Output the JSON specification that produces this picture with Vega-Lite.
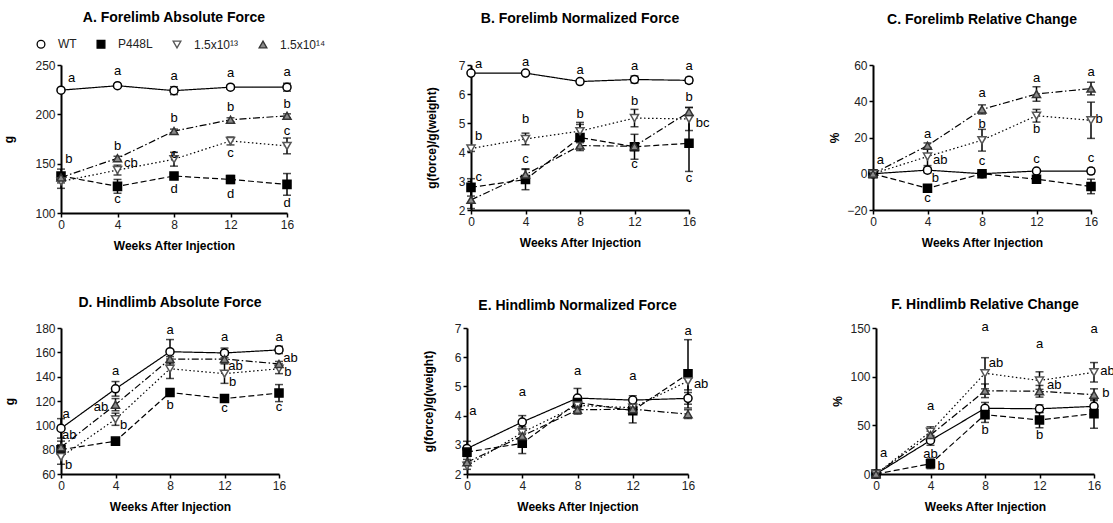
{
"$schema": "https://vega.github.io/schema/vega-lite/v6.json",
"padding": {"left": 2, "top": 11, "right": 5, "bottom": 5},
"config": {
  "font": "Liberation Sans",
  "view": {"stroke": null},
  "axis": {"domainColor": "black", "domainWidth": 2, "tickColor": "black", "tickWidth": 1.5, "tickSize": 4, "labelFontSize": 12, "labelColor": "#222", "labelPadding": 2, "titleFontSize": 12, "titleFontWeight": "bold", "titleColor": "black", "grid": false, "labelFlush": false, "labelOverlap": false},
  "axisX": {"titlePadding": 10},
  "title": {"fontSize": 14, "fontWeight": "bold", "color": "black", "frame": "group", "anchor": "middle"},
  "text": {"fontSize": 13, "color": "black"}
},
"datasets": {
  "pts": [
    {"panel":"A","group":"WT","week":0,"value":224.5,"err":0},
    {"panel":"A","group":"WT","week":4,"value":229,"err":1},
    {"panel":"A","group":"WT","week":8,"value":224,"err":4},
    {"panel":"A","group":"WT","week":12,"value":227.5,"err":2},
    {"panel":"A","group":"WT","week":16,"value":227.5,"err":4},
    {"panel":"A","group":"P448L","week":0,"value":137.5,"err":7},
    {"panel":"A","group":"P448L","week":4,"value":127,"err":7},
    {"panel":"A","group":"P448L","week":8,"value":137.5,"err":2},
    {"panel":"A","group":"P448L","week":12,"value":134,"err":4},
    {"panel":"A","group":"P448L","week":16,"value":129,"err":11},
    {"panel":"A","group":"1.5x10¹³","week":0,"value":132,"err":7},
    {"panel":"A","group":"1.5x10¹³","week":4,"value":143.5,"err":5},
    {"panel":"A","group":"1.5x10¹³","week":8,"value":154.5,"err":7},
    {"panel":"A","group":"1.5x10¹³","week":12,"value":173,"err":4},
    {"panel":"A","group":"1.5x10¹³","week":16,"value":168,"err":8},
    {"panel":"A","group":"1.5x10¹⁴","week":0,"value":136,"err":3},
    {"panel":"A","group":"1.5x10¹⁴","week":4,"value":155.5,"err":2},
    {"panel":"A","group":"1.5x10¹⁴","week":8,"value":183,"err":2},
    {"panel":"A","group":"1.5x10¹⁴","week":12,"value":194.5,"err":2},
    {"panel":"A","group":"1.5x10¹⁴","week":16,"value":198.5,"err":2},

    {"panel":"B","group":"WT","week":0,"value":6.72,"err":0},
    {"panel":"B","group":"WT","week":4,"value":6.72,"err":0},
    {"panel":"B","group":"WT","week":8,"value":6.43,"err":0.05},
    {"panel":"B","group":"WT","week":12,"value":6.5,"err":0.12},
    {"panel":"B","group":"WT","week":16,"value":6.47,"err":0.1},
    {"panel":"B","group":"P448L","week":0,"value":2.78,"err":0.3},
    {"panel":"B","group":"P448L","week":4,"value":3.05,"err":0.35},
    {"panel":"B","group":"P448L","week":8,"value":4.5,"err":0.45},
    {"panel":"B","group":"P448L","week":12,"value":4.18,"err":0.43},
    {"panel":"B","group":"P448L","week":16,"value":4.3,"err":0.97},
    {"panel":"B","group":"1.5x10¹³","week":0,"value":4.12,"err":0.1},
    {"panel":"B","group":"1.5x10¹³","week":4,"value":4.45,"err":0.2},
    {"panel":"B","group":"1.5x10¹³","week":8,"value":4.72,"err":0.3},
    {"panel":"B","group":"1.5x10¹³","week":12,"value":5.17,"err":0.3},
    {"panel":"B","group":"1.5x10¹³","week":16,"value":5.14,"err":0.4},
    {"panel":"B","group":"1.5x10¹⁴","week":0,"value":2.35,"err":0.3},
    {"panel":"B","group":"1.5x10¹⁴","week":4,"value":3.22,"err":0.2},
    {"panel":"B","group":"1.5x10¹⁴","week":8,"value":4.22,"err":0.1},
    {"panel":"B","group":"1.5x10¹⁴","week":12,"value":4.2,"err":0.1},
    {"panel":"B","group":"1.5x10¹⁴","week":16,"value":5.38,"err":0.15},

    {"panel":"C","group":"WT","week":0,"value":0,"err":0},
    {"panel":"C","group":"WT","week":4,"value":2,"err":1.5},
    {"panel":"C","group":"WT","week":8,"value":0,"err":0},
    {"panel":"C","group":"WT","week":12,"value":1.5,"err":0.5},
    {"panel":"C","group":"WT","week":16,"value":1.5,"err":1.5},
    {"panel":"C","group":"P448L","week":0,"value":0,"err":0},
    {"panel":"C","group":"P448L","week":4,"value":-8,"err":1.5},
    {"panel":"C","group":"P448L","week":8,"value":0,"err":0},
    {"panel":"C","group":"P448L","week":12,"value":-3,"err":1},
    {"panel":"C","group":"P448L","week":16,"value":-7,"err":4},
    {"panel":"C","group":"1.5x10¹³","week":0,"value":0,"err":0},
    {"panel":"C","group":"1.5x10¹³","week":4,"value":9.5,"err":5},
    {"panel":"C","group":"1.5x10¹³","week":8,"value":18.5,"err":6},
    {"panel":"C","group":"1.5x10¹³","week":12,"value":32,"err":3.5},
    {"panel":"C","group":"1.5x10¹³","week":16,"value":29.5,"err":10},
    {"panel":"C","group":"1.5x10¹⁴","week":0,"value":0,"err":0},
    {"panel":"C","group":"1.5x10¹⁴","week":4,"value":15.5,"err":1.5},
    {"panel":"C","group":"1.5x10¹⁴","week":8,"value":35.5,"err":2.5},
    {"panel":"C","group":"1.5x10¹⁴","week":12,"value":44,"err":4},
    {"panel":"C","group":"1.5x10¹⁴","week":16,"value":47,"err":3.5},

    {"panel":"D","group":"WT","week":0,"value":97.5,"err":8},
    {"panel":"D","group":"WT","week":4,"value":130,"err":6},
    {"panel":"D","group":"WT","week":8,"value":160.5,"err":10},
    {"panel":"D","group":"WT","week":12,"value":159.5,"err":4},
    {"panel":"D","group":"WT","week":16,"value":162,"err":3},
    {"panel":"D","group":"P448L","week":0,"value":80,"err":4},
    {"panel":"D","group":"P448L","week":4,"value":87,"err":2},
    {"panel":"D","group":"P448L","week":8,"value":127,"err":2},
    {"panel":"D","group":"P448L","week":12,"value":122,"err":2},
    {"panel":"D","group":"P448L","week":16,"value":126.5,"err":7},
    {"panel":"D","group":"1.5x10¹³","week":0,"value":74,"err":6},
    {"panel":"D","group":"1.5x10¹³","week":4,"value":105,"err":5},
    {"panel":"D","group":"1.5x10¹³","week":8,"value":146.5,"err":8},
    {"panel":"D","group":"1.5x10¹³","week":12,"value":142.5,"err":8},
    {"panel":"D","group":"1.5x10¹³","week":16,"value":146.5,"err":4},
    {"panel":"D","group":"1.5x10¹⁴","week":0,"value":82,"err":5},
    {"panel":"D","group":"1.5x10¹⁴","week":4,"value":117,"err":5},
    {"panel":"D","group":"1.5x10¹⁴","week":8,"value":154.5,"err":2},
    {"panel":"D","group":"1.5x10¹⁴","week":12,"value":154.5,"err":3},
    {"panel":"D","group":"1.5x10¹⁴","week":16,"value":150.5,"err":2},

    {"panel":"E","group":"WT","week":0,"value":2.87,"err":0.25},
    {"panel":"E","group":"WT","week":4,"value":3.78,"err":0.22},
    {"panel":"E","group":"WT","week":8,"value":4.6,"err":0.33},
    {"panel":"E","group":"WT","week":12,"value":4.53,"err":0.15},
    {"panel":"E","group":"WT","week":16,"value":4.59,"err":0.2},
    {"panel":"E","group":"P448L","week":0,"value":2.75,"err":0.15},
    {"panel":"E","group":"P448L","week":4,"value":3.05,"err":0.35},
    {"panel":"E","group":"P448L","week":8,"value":4.45,"err":0.2},
    {"panel":"E","group":"P448L","week":12,"value":4.17,"err":0.42},
    {"panel":"E","group":"P448L","week":16,"value":5.43,"err":1.17},
    {"panel":"E","group":"1.5x10¹³","week":0,"value":2.28,"err":0.12},
    {"panel":"E","group":"1.5x10¹³","week":4,"value":3.42,"err":0.2},
    {"panel":"E","group":"1.5x10¹³","week":8,"value":4.35,"err":0.2},
    {"panel":"E","group":"1.5x10¹³","week":12,"value":4.27,"err":0.15},
    {"panel":"E","group":"1.5x10¹³","week":16,"value":5.18,"err":0.3},
    {"panel":"E","group":"1.5x10¹⁴","week":0,"value":2.4,"err":0.1},
    {"panel":"E","group":"1.5x10¹⁴","week":4,"value":3.3,"err":0.2},
    {"panel":"E","group":"1.5x10¹⁴","week":8,"value":4.2,"err":0.15},
    {"panel":"E","group":"1.5x10¹⁴","week":12,"value":4.22,"err":0.1},
    {"panel":"E","group":"1.5x10¹⁴","week":16,"value":4.05,"err":0.15},

    {"panel":"F","group":"WT","week":0,"value":0,"err":0},
    {"panel":"F","group":"WT","week":4,"value":34.5,"err":5},
    {"panel":"F","group":"WT","week":8,"value":67.5,"err":6},
    {"panel":"F","group":"WT","week":12,"value":67,"err":4},
    {"panel":"F","group":"WT","week":16,"value":69.5,"err":8},
    {"panel":"F","group":"P448L","week":0,"value":0,"err":0},
    {"panel":"F","group":"P448L","week":4,"value":10.5,"err":5},
    {"panel":"F","group":"P448L","week":8,"value":61,"err":8},
    {"panel":"F","group":"P448L","week":12,"value":55.5,"err":8},
    {"panel":"F","group":"P448L","week":16,"value":62,"err":15},
    {"panel":"F","group":"1.5x10¹³","week":0,"value":0,"err":0},
    {"panel":"F","group":"1.5x10¹³","week":4,"value":43.5,"err":5},
    {"panel":"F","group":"1.5x10¹³","week":8,"value":103.5,"err":16},
    {"panel":"F","group":"1.5x10¹³","week":12,"value":96,"err":9},
    {"panel":"F","group":"1.5x10¹³","week":16,"value":104.5,"err":10},
    {"panel":"F","group":"1.5x10¹⁴","week":0,"value":0,"err":0},
    {"panel":"F","group":"1.5x10¹⁴","week":4,"value":40,"err":4},
    {"panel":"F","group":"1.5x10¹⁴","week":8,"value":85.5,"err":7},
    {"panel":"F","group":"1.5x10¹⁴","week":12,"value":85,"err":6},
    {"panel":"F","group":"1.5x10¹⁴","week":16,"value":81.5,"err":6}
  ],
  "letters": [
    {"panel":"A","week":0.75,"value":237,"label":"a"},
    {"panel":"A","week":0.55,"value":155,"label":"b"},
    {"panel":"A","week":4,"value":244,"label":"a"},
    {"panel":"A","week":4,"value":168,"label":"b"},
    {"panel":"A","week":4.95,"value":151,"label":"cb"},
    {"panel":"A","week":4,"value":114,"label":"c"},
    {"panel":"A","week":8,"value":239,"label":"a"},
    {"panel":"A","week":8,"value":196.5,"label":"b"},
    {"panel":"A","week":8,"value":159.5,"label":"c"},
    {"panel":"A","week":8,"value":124.5,"label":"d"},
    {"panel":"A","week":12,"value":241.5,"label":"a"},
    {"panel":"A","week":12,"value":207,"label":"b"},
    {"panel":"A","week":12,"value":160.5,"label":"c"},
    {"panel":"A","week":12,"value":119.5,"label":"d"},
    {"panel":"A","week":16,"value":243,"label":"a"},
    {"panel":"A","week":16,"value":210,"label":"b"},
    {"panel":"A","week":16,"value":183,"label":"c"},
    {"panel":"A","week":16,"value":110.5,"label":"d"},

    {"panel":"B","week":0.56,"value":7.03,"label":"a"},
    {"panel":"B","week":0.56,"value":4.56,"label":"b"},
    {"panel":"B","week":0.56,"value":3.13,"label":"c"},
    {"panel":"B","week":4,"value":7.1,"label":"a"},
    {"panel":"B","week":4,"value":5.14,"label":"b"},
    {"panel":"B","week":4,"value":3.76,"label":"c"},
    {"panel":"B","week":8,"value":6.83,"label":"a"},
    {"panel":"B","week":8,"value":5.31,"label":"b"},
    {"panel":"B","week":12,"value":6.95,"label":"a"},
    {"panel":"B","week":12,"value":5.77,"label":"b"},
    {"panel":"B","week":12,"value":3.59,"label":"c"},
    {"panel":"B","week":16,"value":6.95,"label":"a"},
    {"panel":"B","week":16,"value":5.9,"label":"b"},
    {"panel":"B","week":17.0,"value":5.01,"label":"bc"},
    {"panel":"B","week":16,"value":3.12,"label":"c"},

    {"panel":"C","week":0.54,"value":7.4,"label":"a"},
    {"panel":"C","week":4,"value":22.1,"label":"a"},
    {"panel":"C","week":4.94,"value":7.4,"label":"ab"},
    {"panel":"C","week":4.57,"value":-2.6,"label":"b"},
    {"panel":"C","week":4,"value":-13.3,"label":"c"},
    {"panel":"C","week":8,"value":44.4,"label":"a"},
    {"panel":"C","week":8,"value":27.6,"label":"b"},
    {"panel":"C","week":8,"value":7.1,"label":"c"},
    {"panel":"C","week":12,"value":52.7,"label":"a"},
    {"panel":"C","week":12,"value":24.8,"label":"b"},
    {"panel":"C","week":12,"value":8.4,"label":"c"},
    {"panel":"C","week":16,"value":56,"label":"a"},
    {"panel":"C","week":16.6,"value":30.3,"label":"b"},
    {"panel":"C","week":16,"value":8.9,"label":"c"},

    {"panel":"D","week":0.37,"value":109.3,"label":"a"},
    {"panel":"D","week":0.61,"value":92.3,"label":"ab"},
    {"panel":"D","week":0.56,"value":67.7,"label":"b"},
    {"panel":"D","week":4,"value":145,"label":"a"},
    {"panel":"D","week":2.93,"value":114.8,"label":"ab"},
    {"panel":"D","week":4.6,"value":100,"label":"b"},
    {"panel":"D","week":4,"value":87.4,"label":"c"},
    {"panel":"D","week":8,"value":178.6,"label":"a"},
    {"panel":"D","week":8,"value":116.4,"label":"b"},
    {"panel":"D","week":12,"value":172.3,"label":"a"},
    {"panel":"D","week":12.8,"value":148.5,"label":"ab"},
    {"panel":"D","week":12.6,"value":135.3,"label":"b"},
    {"panel":"D","week":12,"value":114.2,"label":"c"},
    {"panel":"D","week":16,"value":172.3,"label":"a"},
    {"panel":"D","week":16.85,"value":155.3,"label":"ab"},
    {"panel":"D","week":16.65,"value":143.6,"label":"b"},
    {"panel":"D","week":16,"value":114.8,"label":"c"},

    {"panel":"E","week":0.43,"value":4.17,"label":"a"},
    {"panel":"E","week":4,"value":4.8,"label":"a"},
    {"panel":"E","week":8,"value":5.54,"label":"a"},
    {"panel":"E","week":12,"value":5.37,"label":"a"},
    {"panel":"E","week":16,"value":6.9,"label":"a"},
    {"panel":"E","week":16.95,"value":5.08,"label":"ab"},

    {"panel":"F","week":0.56,"value":21.6,"label":"a"},
    {"panel":"F","week":4,"value":69.5,"label":"a"},
    {"panel":"F","week":4,"value":20.5,"label":"ab"},
    {"panel":"F","week":4.77,"value":8.6,"label":"b"},
    {"panel":"F","week":8,"value":150.7,"label":"a"},
    {"panel":"F","week":8.8,"value":114,"label":"ab"},
    {"panel":"F","week":8,"value":45.5,"label":"b"},
    {"panel":"F","week":12,"value":133.6,"label":"a"},
    {"panel":"F","week":13.08,"value":91.8,"label":"ab"},
    {"panel":"F","week":12,"value":40.4,"label":"b"},
    {"panel":"F","week":16,"value":149,"label":"a"},
    {"panel":"F","week":16.99,"value":105.5,"label":"ab"},
    {"panel":"F","week":16.87,"value":83.2,"label":"b"}
  ]
},
"spacing": 263,
"bounds": "flush",
"resolve": {"scale": {"shape": "independent", "fill": "independent", "stroke": "independent", "strokeDash": "independent"}},
"vconcat": [
{
"spacing": 184,
"bounds": "flush",
"resolve": {"scale": {"shape": "independent", "fill": "independent", "stroke": "independent", "strokeDash": "independent"}},
"hconcat": [
{
  "width": 226, "height": 148,
  "title": {"text": "A. Forelimb Absolute Force", "offset": 13},
  "encoding": {
    "x": {"field": "week", "type": "quantitative", "scale": {"domain": [0, 16], "nice": false}, "axis": {"values": [0, 4, 8, 12, 16], "title": "Weeks After Injection"}},
    "y": {"field": "value", "type": "quantitative", "scale": {"domain": [100, 250], "nice": false, "zero": false}, "axis": {"values": [100, 150, 200, 250], "title": "g", "titlePadding": 19}}
  },
  "layer": [
    {"data": {"name": "pts"}, "transform": [{"filter": "datum.panel === 'A'"}], "mark": {"type": "line", "color": "black", "strokeWidth": 1.2},
     "encoding": {"strokeDash": {"field": "group", "type": "nominal", "scale": {"domain": ["1.5x10¹⁴", "1.5x10¹³", "P448L", "WT"], "range": [[7, 2.5, 1.5, 2.5], [1.5, 2.5], [6, 3], [1, 0]]}, "legend": null}}},
    {"data": {"name": "pts"}, "transform": [{"filter": "datum.panel === 'A' && datum.err > 0"}], "mark": {"type": "errorbar", "color": "black", "thickness": 1.5, "ticks": {"size": 8, "thickness": 1.5}},
     "encoding": {"yError": {"field": "err"}}},
    {"data": {"name": "pts"}, "transform": [{"filter": "datum.panel === 'A'"}], "mark": {"type": "point", "filled": true, "opacity": 1, "size": 65, "strokeWidth": 1.5},
     "encoding": {
       "shape": {"field": "group", "type": "nominal", "scale": {"domain": ["WT", "P448L", "1.5x10¹³", "1.5x10¹⁴"], "range": ["circle", "square", "triangle-down", "triangle-up"]},
         "legend": {"title": null, "orient": "none", "legendX": -26, "legendY": -27, "direction": "horizontal", "labelFontSize": 12, "labelColor": "#222", "symbolSize": 60, "symbolStrokeWidth": 1.3, "symbolOpacity": 1, "labelOffset": 11, "columnPadding": 17}},
       "fill": {"field": "group", "type": "nominal", "scale": {"domain": ["WT", "P448L", "1.5x10¹³", "1.5x10¹⁴"], "range": ["white", "black", "white", "#8a8a8a"]},
         "legend": {"title": null, "orient": "none", "legendX": -26, "legendY": -27, "direction": "horizontal", "labelFontSize": 12, "labelColor": "#222", "symbolSize": 60, "symbolStrokeWidth": 1.3, "symbolOpacity": 1, "labelOffset": 11, "columnPadding": 17}},
       "stroke": {"field": "group", "type": "nominal", "scale": {"domain": ["WT", "P448L", "1.5x10¹³", "1.5x10¹⁴"], "range": ["black", "black", "#555555", "#333333"]},
         "legend": {"title": null, "orient": "none", "legendX": -26, "legendY": -27, "direction": "horizontal", "labelFontSize": 12, "labelColor": "#222", "symbolSize": 60, "symbolStrokeWidth": 1.3, "symbolOpacity": 1, "labelOffset": 11, "columnPadding": 17}}
     }},
    {"data": {"name": "letters"}, "transform": [{"filter": "datum.panel === 'A'"}], "mark": {"type": "text", "baseline": "middle", "align": "center"}, "encoding": {"text": {"field": "label"}}}
  ]
},
{
  "width": 218, "height": 145,
  "title": {"text": "B. Forelimb Normalized Force", "offset": 30},
  "encoding": {
    "x": {"field": "week", "type": "quantitative", "scale": {"domain": [0, 16], "nice": false}, "axis": {"values": [0, 4, 8, 12, 16], "title": "Weeks After Injection"}},
    "y": {"field": "value", "type": "quantitative", "scale": {"domain": [2, 7], "nice": false, "zero": false}, "axis": {"values": [2, 3, 4, 5, 6, 7], "title": "g(force)/g(weight)", "titlePadding": 20}}
  },
  "layer": [
    {"data": {"name": "pts"}, "transform": [{"filter": "datum.panel === 'B'"}], "mark": {"type": "line", "color": "black", "strokeWidth": 1.2},
     "encoding": {"strokeDash": {"field": "group", "type": "nominal", "scale": {"domain": ["WT", "P448L", "1.5x10¹³", "1.5x10¹⁴"], "range": [[1, 0], [6, 3], [1.5, 2.5], [7, 2.5, 1.5, 2.5]]}, "legend": null}}},
    {"data": {"name": "pts"}, "transform": [{"filter": "datum.panel === 'B' && datum.err > 0"}], "mark": {"type": "errorbar", "color": "black", "thickness": 1.5, "ticks": {"size": 8, "thickness": 1.5}},
     "encoding": {"yError": {"field": "err"}}},
    {"data": {"name": "pts"}, "transform": [{"filter": "datum.panel === 'B'"}], "mark": {"type": "point", "filled": true, "opacity": 1, "size": 65, "strokeWidth": 1.5},
     "encoding": {
       "shape": {"field": "group", "type": "nominal", "scale": {"domain": ["WT", "P448L", "1.5x10¹³", "1.5x10¹⁴"], "range": ["circle", "square", "triangle-down", "triangle-up"]}, "legend": null},
       "fill": {"field": "group", "type": "nominal", "scale": {"domain": ["WT", "P448L", "1.5x10¹³", "1.5x10¹⁴"], "range": ["white", "black", "white", "#8a8a8a"]}, "legend": null},
       "stroke": {"field": "group", "type": "nominal", "scale": {"domain": ["WT", "P448L", "1.5x10¹³", "1.5x10¹⁴"], "range": ["black", "black", "#555555", "#333333"]}, "legend": null}
     }},
    {"data": {"name": "letters"}, "transform": [{"filter": "datum.panel === 'B'"}], "mark": {"type": "text", "baseline": "middle", "align": "center"}, "encoding": {"text": {"field": "label"}}}
  ]
},
{
  "width": 218, "height": 145,
  "title": {"text": "C. Forelimb Relative Change", "offset": 32},
  "encoding": {
    "x": {"field": "week", "type": "quantitative", "scale": {"domain": [0, 16], "nice": false}, "axis": {"values": [0, 4, 8, 12, 16], "title": "Weeks After Injection"}},
    "y": {"field": "value", "type": "quantitative", "scale": {"domain": [-20, 60], "nice": false, "zero": false}, "axis": {"values": [-20, 0, 20, 40, 60], "title": "%", "titlePadding": 5}}
  },
  "layer": [
    {"data": {"values": [{}]}, "mark": {"type": "rule", "color": "black", "strokeWidth": 1.2, "strokeDash": [1.5, 2]},
     "encoding": {"x": {"datum": 0}, "x2": {"datum": 16}, "y": {"datum": 0}}},
    {"data": {"name": "pts"}, "transform": [{"filter": "datum.panel === 'C'"}], "mark": {"type": "line", "color": "black", "strokeWidth": 1.2},
     "encoding": {"strokeDash": {"field": "group", "type": "nominal", "scale": {"domain": ["WT", "P448L", "1.5x10¹³", "1.5x10¹⁴"], "range": [[1, 0], [6, 3], [1.5, 2.5], [7, 2.5, 1.5, 2.5]]}, "legend": null}}},
    {"data": {"name": "pts"}, "transform": [{"filter": "datum.panel === 'C' && datum.err > 0"}], "mark": {"type": "errorbar", "color": "black", "thickness": 1.5, "ticks": {"size": 8, "thickness": 1.5}},
     "encoding": {"yError": {"field": "err"}}},
    {"data": {"name": "pts"}, "transform": [{"filter": "datum.panel === 'C'"}], "mark": {"type": "point", "filled": true, "opacity": 1, "size": 65, "strokeWidth": 1.5},
     "encoding": {
       "shape": {"field": "group", "type": "nominal", "scale": {"domain": ["WT", "P448L", "1.5x10¹³", "1.5x10¹⁴"], "range": ["circle", "square", "triangle-down", "triangle-up"]}, "legend": null},
       "fill": {"field": "group", "type": "nominal", "scale": {"domain": ["WT", "P448L", "1.5x10¹³", "1.5x10¹⁴"], "range": ["white", "black", "white", "#8a8a8a"]}, "legend": null},
       "stroke": {"field": "group", "type": "nominal", "scale": {"domain": ["WT", "P448L", "1.5x10¹³", "1.5x10¹⁴"], "range": ["black", "black", "#555555", "#333333"]}, "legend": null}
     }},
    {"data": {"name": "letters"}, "transform": [{"filter": "datum.panel === 'C'"}], "mark": {"type": "text", "baseline": "middle", "align": "center"}, "encoding": {"text": {"field": "label"}}}
  ]
}
]
},
{
"spacing": 188,
"bounds": "flush",
"resolve": {"scale": {"shape": "independent", "fill": "independent", "stroke": "independent", "strokeDash": "independent"}},
"hconcat": [
{
  "width": 218, "height": 146,
  "title": {"text": "D. Hindlimb Absolute Force", "offset": 12},
  "encoding": {
    "x": {"field": "week", "type": "quantitative", "scale": {"domain": [0, 16], "nice": false}, "axis": {"values": [0, 4, 8, 12, 16], "title": "Weeks After Injection"}},
    "y": {"field": "value", "type": "quantitative", "scale": {"domain": [60, 180], "nice": false, "zero": false}, "axis": {"values": [60, 80, 100, 120, 140, 160, 180], "title": "g", "titlePadding": 18}}
  },
  "layer": [
    {"data": {"name": "pts"}, "transform": [{"filter": "datum.panel === 'D'"}], "mark": {"type": "line", "color": "black", "strokeWidth": 1.2},
     "encoding": {"strokeDash": {"field": "group", "type": "nominal", "scale": {"domain": ["WT", "P448L", "1.5x10¹³", "1.5x10¹⁴"], "range": [[1, 0], [6, 3], [1.5, 2.5], [7, 2.5, 1.5, 2.5]]}, "legend": null}}},
    {"data": {"name": "pts"}, "transform": [{"filter": "datum.panel === 'D' && datum.err > 0"}], "mark": {"type": "errorbar", "color": "black", "thickness": 1.5, "ticks": {"size": 8, "thickness": 1.5}},
     "encoding": {"yError": {"field": "err"}}},
    {"data": {"name": "pts"}, "transform": [{"filter": "datum.panel === 'D'"}], "mark": {"type": "point", "filled": true, "opacity": 1, "size": 65, "strokeWidth": 1.5},
     "encoding": {
       "shape": {"field": "group", "type": "nominal", "scale": {"domain": ["WT", "P448L", "1.5x10¹³", "1.5x10¹⁴"], "range": ["circle", "square", "triangle-down", "triangle-up"]}, "legend": null},
       "fill": {"field": "group", "type": "nominal", "scale": {"domain": ["WT", "P448L", "1.5x10¹³", "1.5x10¹⁴"], "range": ["white", "black", "white", "#8a8a8a"]}, "legend": null},
       "stroke": {"field": "group", "type": "nominal", "scale": {"domain": ["WT", "P448L", "1.5x10¹³", "1.5x10¹⁴"], "range": ["black", "black", "#555555", "#333333"]}, "legend": null}
     }},
    {"data": {"name": "letters"}, "transform": [{"filter": "datum.panel === 'D'"}], "mark": {"type": "text", "baseline": "middle", "align": "center"}, "encoding": {"text": {"field": "label"}}}
  ]
},
{
  "width": 221, "height": 146,
  "title": {"text": "E. Hindlimb Normalized Force", "offset": 9},
  "encoding": {
    "x": {"field": "week", "type": "quantitative", "scale": {"domain": [0, 16], "nice": false}, "axis": {"values": [0, 4, 8, 12, 16], "title": "Weeks After Injection"}},
    "y": {"field": "value", "type": "quantitative", "scale": {"domain": [2, 7], "nice": false, "zero": false}, "axis": {"values": [2, 3, 4, 5, 6, 7], "title": "g(force)/g(weight)", "titlePadding": 19}}
  },
  "layer": [
    {"data": {"name": "pts"}, "transform": [{"filter": "datum.panel === 'E'"}], "mark": {"type": "line", "color": "black", "strokeWidth": 1.2},
     "encoding": {"strokeDash": {"field": "group", "type": "nominal", "scale": {"domain": ["WT", "P448L", "1.5x10¹³", "1.5x10¹⁴"], "range": [[1, 0], [6, 3], [1.5, 2.5], [7, 2.5, 1.5, 2.5]]}, "legend": null}}},
    {"data": {"name": "pts"}, "transform": [{"filter": "datum.panel === 'E' && datum.err > 0"}], "mark": {"type": "errorbar", "color": "black", "thickness": 1.5, "ticks": {"size": 8, "thickness": 1.5}},
     "encoding": {"yError": {"field": "err"}}},
    {"data": {"name": "pts"}, "transform": [{"filter": "datum.panel === 'E'"}], "mark": {"type": "point", "filled": true, "opacity": 1, "size": 65, "strokeWidth": 1.5},
     "encoding": {
       "shape": {"field": "group", "type": "nominal", "scale": {"domain": ["WT", "P448L", "1.5x10¹³", "1.5x10¹⁴"], "range": ["circle", "square", "triangle-down", "triangle-up"]}, "legend": null},
       "fill": {"field": "group", "type": "nominal", "scale": {"domain": ["WT", "P448L", "1.5x10¹³", "1.5x10¹⁴"], "range": ["white", "black", "white", "#8a8a8a"]}, "legend": null},
       "stroke": {"field": "group", "type": "nominal", "scale": {"domain": ["WT", "P448L", "1.5x10¹³", "1.5x10¹⁴"], "range": ["black", "black", "#555555", "#333333"]}, "legend": null}
     }},
    {"data": {"name": "letters"}, "transform": [{"filter": "datum.panel === 'E'"}], "mark": {"type": "text", "baseline": "middle", "align": "center"}, "encoding": {"text": {"field": "label"}}}
  ]
},
{
  "width": 218, "height": 146,
  "title": {"text": "F. Hindlimb Relative Change", "offset": 9},
  "encoding": {
    "x": {"field": "week", "type": "quantitative", "scale": {"domain": [0, 16], "nice": false}, "axis": {"values": [0, 4, 8, 12, 16], "title": "Weeks After Injection"}},
    "y": {"field": "value", "type": "quantitative", "scale": {"domain": [0, 150], "nice": false, "zero": false}, "axis": {"values": [0, 50, 100, 150], "title": "%", "titlePadding": 5}}
  },
  "layer": [
    {"data": {"name": "pts"}, "transform": [{"filter": "datum.panel === 'F'"}], "mark": {"type": "line", "color": "black", "strokeWidth": 1.2},
     "encoding": {"strokeDash": {"field": "group", "type": "nominal", "scale": {"domain": ["WT", "P448L", "1.5x10¹³", "1.5x10¹⁴"], "range": [[1, 0], [6, 3], [1.5, 2.5], [7, 2.5, 1.5, 2.5]]}, "legend": null}}},
    {"data": {"name": "pts"}, "transform": [{"filter": "datum.panel === 'F' && datum.err > 0"}], "mark": {"type": "errorbar", "color": "black", "thickness": 1.5, "ticks": {"size": 8, "thickness": 1.5}},
     "encoding": {"yError": {"field": "err"}}},
    {"data": {"name": "pts"}, "transform": [{"filter": "datum.panel === 'F'"}], "mark": {"type": "point", "filled": true, "opacity": 1, "size": 65, "strokeWidth": 1.5},
     "encoding": {
       "shape": {"field": "group", "type": "nominal", "scale": {"domain": ["WT", "P448L", "1.5x10¹³", "1.5x10¹⁴"], "range": ["circle", "square", "triangle-down", "triangle-up"]}, "legend": null},
       "fill": {"field": "group", "type": "nominal", "scale": {"domain": ["WT", "P448L", "1.5x10¹³", "1.5x10¹⁴"], "range": ["white", "black", "white", "#8a8a8a"]}, "legend": null},
       "stroke": {"field": "group", "type": "nominal", "scale": {"domain": ["WT", "P448L", "1.5x10¹³", "1.5x10¹⁴"], "range": ["black", "black", "#555555", "#333333"]}, "legend": null}
     }},
    {"data": {"name": "letters"}, "transform": [{"filter": "datum.panel === 'F'"}], "mark": {"type": "text", "baseline": "middle", "align": "center"}, "encoding": {"text": {"field": "label"}}}
  ]
}
]
}
]
}
